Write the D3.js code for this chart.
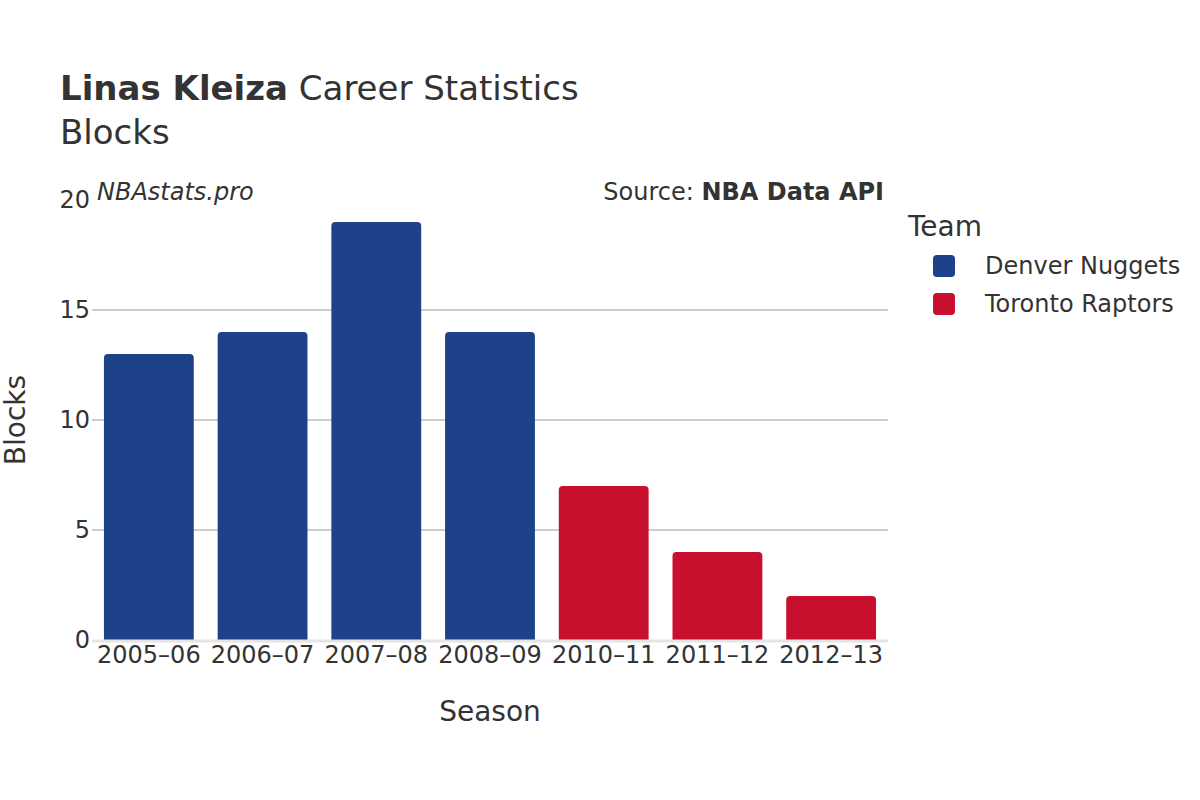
<!DOCTYPE html>
<html><head><meta charset="utf-8">
<script src="https://cdn.jsdelivr.net/npm/d3@7"></script>
<style>body{margin:0;background:#fff}svg{font-family:"DejaVu Sans",sans-serif}</style>
</head><body><svg id="c" width="1200" height="800"></svg>
<script>
const seasons = ["2005–06","2006–07","2007–08","2008–09","2010–11","2011–12","2012–13"];
const teams = ["Denver Nuggets","Denver Nuggets","Denver Nuggets","Denver Nuggets","Toronto Raptors","Toronto Raptors","Toronto Raptors"];
const blocks = [13,14,19,14,7,4,2];
const legendTeams = ["Denver Nuggets","Toronto Raptors"];
const teamColors = ["#1D428A","#C8102E"];
const yTicks = [0,5,10,15,20];

const svg = d3.select("#c");
const m = {l:92, r:888, t:200, b:640};
const x = d3.scaleBand().domain(seasons).range([m.l, m.r]).paddingInner(0.21).paddingOuter(0.105);
const y = d3.scaleLinear().domain([0,20]).range([m.b, m.t]);
const color = d3.scaleOrdinal().domain(legendTeams).range(teamColors);

// grid
svg.append("g").selectAll("line").data(yTicks.filter(d=>d>0 && d<20)).join("line")
  .attr("x1", m.l).attr("x2", m.r).attr("y1", d=>y(d)).attr("y2", d=>y(d))
  .attr("stroke","#bdbdbd").attr("stroke-width",1.3);

// bars with rounded top
const r = 4;
svg.append("g").selectAll("path").data(seasons).join("path")
  .attr("fill", (d,i)=>color(teams[i]))
  .attr("d", (d,i)=>{
    const x0 = x(d), w = x.bandwidth(), y0 = y(blocks[i]), yb = y(0);
    return `M${x0},${yb}V${y0+r}Q${x0},${y0} ${x0+r},${y0}H${x0+w-r}Q${x0+w},${y0} ${x0+w},${y0+r}V${yb}Z`;
  });

// zero line
svg.append("line").attr("x1", m.l).attr("x2", m.r).attr("y1", y(0)+1).attr("y2", y(0)+1)
  .attr("stroke","#e5e5e5").attr("stroke-width",3);

// y axis
const ya = svg.append("g").attr("transform",`translate(${m.l},0)`)
  .call(d3.axisLeft(y).tickValues(yTicks).tickSize(0).tickPadding(2));
ya.select(".domain").remove();
ya.selectAll("text").attr("font-size",24).attr("fill","#333").attr("font-family","DejaVu Sans");

// x axis
const xa = svg.append("g").attr("transform",`translate(0,${m.b})`)
  .call(d3.axisBottom(x).tickSize(0).tickPadding(6));
xa.select(".domain").remove();
xa.selectAll("text").attr("font-size",24).attr("fill","#333").attr("font-family","DejaVu Sans");

// titles
const t = svg.append("text").attr("x",60).attr("y",100).attr("font-size",34).attr("fill","#333");
t.append("tspan").attr("font-weight","bold").text("Linas Kleiza");
t.append("tspan").text(" Career Statistics");
svg.append("text").attr("x",60).attr("y",144).attr("font-size",34).attr("fill","#333").text("Blocks");

svg.append("text").attr("x",97).attr("y",200).attr("font-size",24).attr("font-style","italic").attr("fill","#333").text("NBAstats.pro");
const s = svg.append("text").attr("x",884).attr("y",200).attr("font-size",24).attr("text-anchor","end").attr("fill","#333");
s.append("tspan").text("Source: ");
s.append("tspan").attr("font-weight","bold").text("NBA Data API");

svg.append("text").attr("x",490).attr("y",721).attr("font-size",28).attr("text-anchor","middle").attr("fill","#333").text("Season");
svg.append("text").attr("transform","translate(17,420) rotate(-90)").attr("font-size",28).attr("text-anchor","middle").attr("dominant-baseline","middle").attr("fill","#333").text("Blocks");

// legend
svg.append("text").attr("x",908).attr("y",236).attr("font-size",28).attr("fill","#333").text("Team");
const lg = svg.append("g").selectAll("g").data(legendTeams).join("g")
  .attr("transform",(d,i)=>`translate(933,${255+i*38})`);
lg.append("rect").attr("width",22).attr("height",22).attr("rx",4).attr("fill",d=>color(d));
lg.append("text").attr("x",52).attr("y",11).attr("dominant-baseline","central").attr("font-size",24).attr("fill","#333").text(d=>d);
</script></body></html>
